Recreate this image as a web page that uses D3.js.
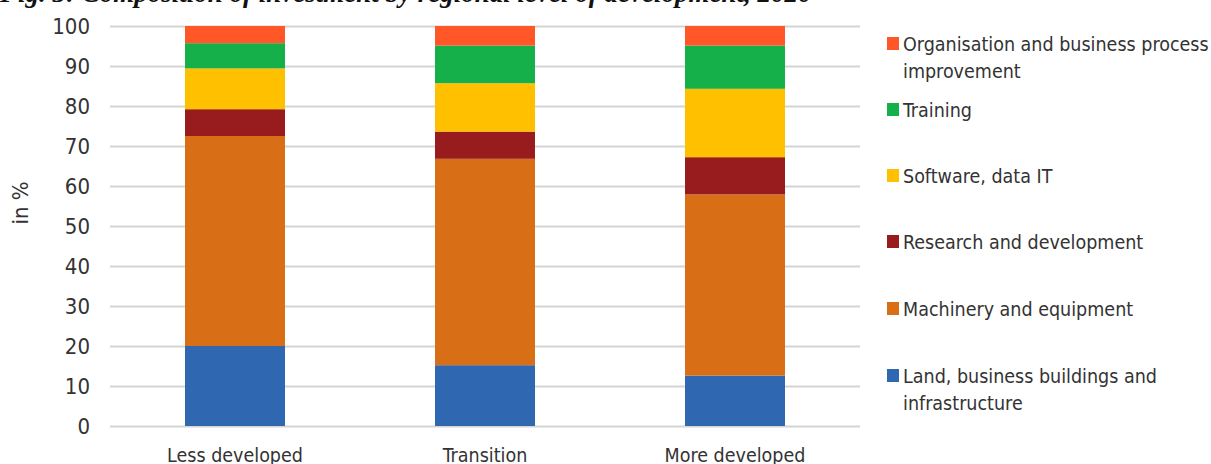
<!DOCTYPE html>
<html>
<head>
<meta charset="utf-8">
<script src="https://cdn.jsdelivr.net/npm/d3@7"></script>
<style>
  body { margin: 0; background: #fff; }
  text { font-family: "Liberation Sans Narrow", "Arial Narrow", "DejaVu Sans Condensed", sans-serif; fill: #333; }
</style>
</head>
<body>
<script>
// data (shares in %)
const regions = ["Less developed", "Transition", "More developed"];
const categories = ["Land, business buildings and infrastructure", "Machinery and equipment",
  "Research and development", "Software, data IT", "Training", "Organisation and business process improvement"];
const land      = [20.0, 15.2, 12.6];
const machinery = [52.5, 51.6, 45.3];
const research  = [6.7, 6.8, 9.3];
const software  = [10.2, 12.1, 17.1];
const training  = [6.3, 9.4, 10.8];
const organisation = [4.3, 4.9, 4.9];
const yTicks = [0, 10, 20, 30, 40, 50, 60, 70, 80, 90, 100];
const colors = ["#2f67b1", "#d86f17", "#981b1e", "#ffc000", "#16b04a", "#ff5728"];

// legend labels with manual line breaks
const legendLines = [
  ["Land, business buildings and", "infrastructure"],
  ["Machinery and equipment"],
  ["Research and development"],
  ["Software, data IT"],
  ["Training"],
  ["Organisation and business process", "improvement"]
];

const canvWidth = 1211, canvHeight = 464;
const svg = d3.select("body").append("svg")
  .attr("width", canvWidth)
  .attr("height", canvHeight);

const margin = {top: 26, left: 110, right: 351, bottom: 38};
const width = canvWidth - margin.left - margin.right;
const height = canvHeight - margin.top - margin.bottom;

const series = [land, machinery, research, software, training, organisation];
const rows = regions.map((r, i) => {
  const o = {region: r};
  categories.forEach((c, j) => o[c] = series[j][i]);
  return o;
});
const stacked = d3.stack().keys(categories)(rows);

const x = d3.scaleBand().domain(regions).range([margin.left, margin.left + width]).paddingInner(0.6).paddingOuter(0.3);
const y = d3.scaleLinear().domain([0, 100]).range([margin.top + height, margin.top]);

// title, cut off at the top of the picture
svg.append("text")
  .attr("x", 0).attr("y", 2)
  .style("font-family", "'Liberation Serif', serif")
  .style("font-weight", "bold").style("font-style", "italic")
  .style("font-size", "27px").style("fill", "#111")
  .text("Fig. 3: Composition of investment by regional level of development, 2020");

// gridlines
const grid = svg.append("g")
  .attr("transform", "translate(" + margin.left + ",0)")
  .call(d3.axisLeft(y).tickValues(yTicks).tickSize(-width).tickFormat(""));
grid.select(".domain").remove();
grid.selectAll("line").attr("stroke", "#d4d4d4").attr("stroke-width", 2);

// y tick labels
const yAxis = svg.append("g")
  .attr("transform", "translate(" + (margin.left - 20) + ",0)")
  .call(d3.axisLeft(y).tickValues(yTicks).tickSize(0).tickPadding(0));
yAxis.select(".domain").remove();
yAxis.selectAll("text").style("font-size", "22px").attr("dy", "0.35em");

svg.append("text")
  .attr("transform", "translate(28,203) rotate(-90)")
  .style("text-anchor", "middle").style("font-size", "22px")
  .text("in %");

// bars
svg.append("g").selectAll("g").data(stacked).join("g")
  .attr("fill", (d, i) => colors[i])
  .selectAll("rect").data(d => d).join("rect")
  .attr("x", d => x(d.data.region))
  .attr("width", x.bandwidth())
  .attr("y", d => y(d[1]))
  .attr("height", d => y(d[0]) - y(d[1]));

// x labels
const xAxis = svg.append("g")
  .attr("transform", "translate(0," + (margin.top + height) + ")")
  .call(d3.axisBottom(x).tickSize(0).tickPadding(0));
xAxis.select(".domain").remove();
xAxis.selectAll("text").attr("dy", 0).attr("y", 36).style("font-size", "19.5px");

// legend, top entry first
const legendY = [44, 110, 176, 242, 309, 376];
const legend = svg.append("g");
const order = d3.range(categories.length).reverse();
order.forEach((j, k) => {
  const g = legend.append("g").attr("transform", "translate(887," + legendY[k] + ")");
  g.append("rect").attr("x", 0).attr("y", -7).attr("width", 12).attr("height", 13).attr("fill", colors[j]);
  g.selectAll("text").data(legendLines[j]).join("text")
    .attr("x", 16).attr("y", (d, i) => i * 27 + 7)
    .style("font-size", "19.5px")
    .text(d => d);
});
</script>
</body>
</html>
